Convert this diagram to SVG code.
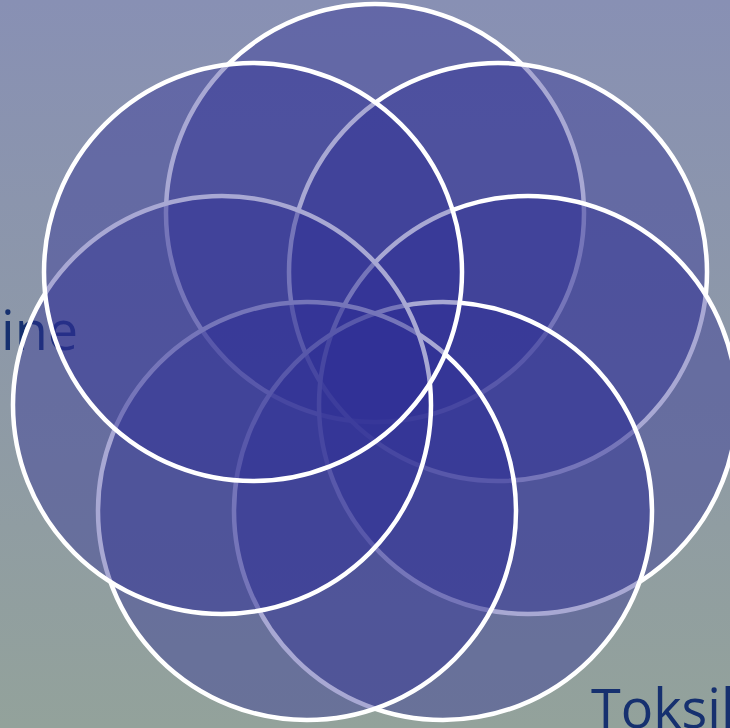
<svg xmlns="http://www.w3.org/2000/svg" width="730" height="728" viewBox="0 0 730 728">
  <defs>
    <linearGradient id="bg" x1="0" y1="0" x2="0" y2="1">
      <stop offset="0" stop-color="#8890b4"/>
      <stop offset="1" stop-color="#93a29b"/>
    </linearGradient>
  </defs>
  <style>
    .c { fill: #302f96; fill-opacity: 0.42; stroke: #ffffff; stroke-width: 4.5; }
    .t { font-family: "Open Sans", "Liberation Sans", sans-serif; font-size: 54px; fill: #16306f; }
  </style>
  <rect x="0" y="0" width="730" height="728" fill="url(#bg)"/>
  <g id="labels">
    <g id="label-ine"><text class="t" x="1" y="350">ine</text></g>
    <g id="label-toksil"><text class="t" x="591" y="728">Toksil</text></g>
  </g>
  <g id="connectors"></g>
  <g id="node-top"><circle class="c" cx="375" cy="213" r="209"/></g>
  <g id="node-upper-right"><circle class="c" cx="498" cy="272" r="209"/></g>
  <g id="node-right"><circle class="c" cx="528" cy="405" r="209"/></g>
  <g id="node-bottom-right"><circle class="c" cx="443" cy="511" r="209"/></g>
  <g id="node-bottom-left"><circle class="c" cx="307" cy="511" r="209"/></g>
  <g id="node-left"><circle class="c" cx="222" cy="405" r="209"/></g>
  <g id="node-upper-left"><circle class="c" cx="253" cy="272" r="209"/></g>
</svg>
